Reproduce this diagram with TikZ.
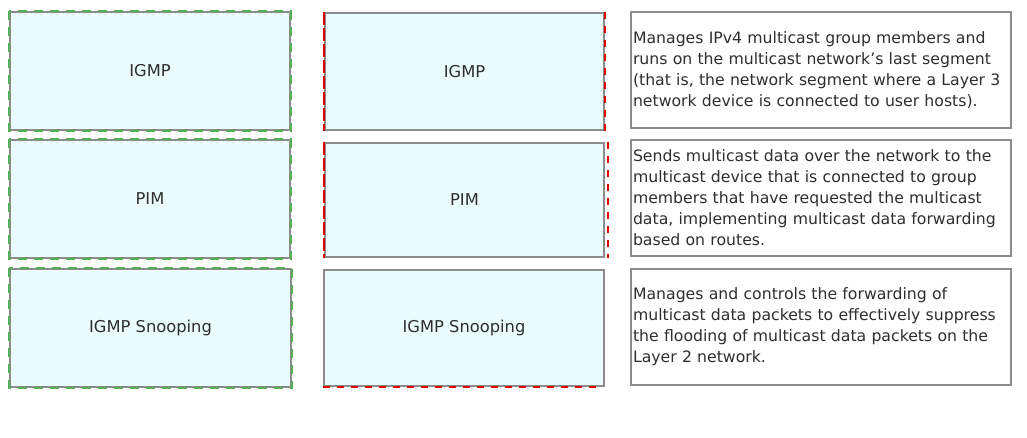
\documentclass[tikz,border=0pt]{standalone}
\usepackage{fontspec}
\setmainfont{DejaVu Sans}
\usepackage{tikz}
\definecolor{boxfill}{HTML}{EBFCFE}
\definecolor{edgegray}{HTML}{8C8C8C}
\definecolor{inkgray}{HTML}{2E2E2E}
\definecolor{markgreen}{HTML}{55B055}
\definecolor{markred}{HTML}{E00000}
\tikzset{proto/.style = {draw = edgegray, line width = 1.4pt, fill = boxfill, text = inkgray,
                         inner sep = 0, font = \fontsize{16.3}{19}\selectfont}}
\tikzset{desc/.style = {draw = edgegray, line width = 1.4pt, text = inkgray, align = left,
                        text width = 376pt, inner xsep = 2pt, inner ysep = 0, minimum height = 116pt,
                        font = \fontsize{15.7}{21}\selectfont}}
\tikzset{greendash/.style = {draw = markgreen, line width = 2.2pt, dash pattern = on 9pt off 7pt}}
\tikzset{redline/.style = {draw = markred, line width = 2pt, dash pattern = on 13pt off 3pt}}
\tikzset{reddash/.style = {draw = markred, line width = 2pt, dash pattern = on 7pt off 7pt}}

\begin{document}
\begin{tikzpicture}[x = 1pt, y = -1pt]
      \useasboundingbox (0, 0) rectangle (1027, 437);
      % first column
      \node [proto, minimum width = 280pt, minimum height = 118pt] (igmpA) at (150, 71) {IGMP};
      \node [proto, minimum width = 280pt, minimum height = 118pt] (pimA) at (150, 199) {PIM};
      \node [proto, minimum width = 281pt, minimum height = 118pt] (snoopA) at (150.5, 328) {IGMP Snooping};
      \draw [greendash] (igmpA.north west) rectangle (igmpA.south east);
      \draw [greendash] (pimA.north west) rectangle (pimA.south east);
      \draw [greendash] (snoopA.north west) rectangle (snoopA.south east);
      % second column
      \node [proto, minimum width = 279pt, minimum height = 117pt] (igmpB) at (464.5, 71.5) {IGMP};
      \node [proto, minimum width = 279pt, minimum height = 114pt] (pimB) at (464.5, 200) {PIM};
      \node [proto, minimum width = 280pt, minimum height = 116pt] (snoopB) at (464, 328) {IGMP Snooping};
      \draw [redline] (igmpB.north west) -- (igmpB.south west);
      \draw [reddash] (igmpB.north east) -- (igmpB.south east);
      \draw [redline] (pimB.north west) -- (pimB.south west);
      \draw [reddash] ([xshift = 3pt] pimB.north east) -- ([xshift = 3pt] pimB.south east);
      \draw [reddash] (snoopB.south west) -- ([xshift = -9pt] snoopB.south east);
      % third column
      \node [desc] (descA) at (821, 70) {Manages IPv4 multicast group members and\\
        runs on the multicast network's last segment\\
        (that is, the network segment where a Layer 3\\
        network device is connected to user hosts).};
      \node [desc] (descB) at (821, 198) {Sends multicast data over the network to the\\
        multicast device that is connected to group\\
        members that have requested the multicast\\
        data, implementing multicast data forwarding\\
        based on routes.};
      \node [desc] (descC) at (821, 327) {Manages and controls the forwarding of\\
        multicast data packets to effectively suppress\\
        the flooding of multicast data packets on the\\
        Layer 2 network.};
    \end{tikzpicture}
\end{document}
